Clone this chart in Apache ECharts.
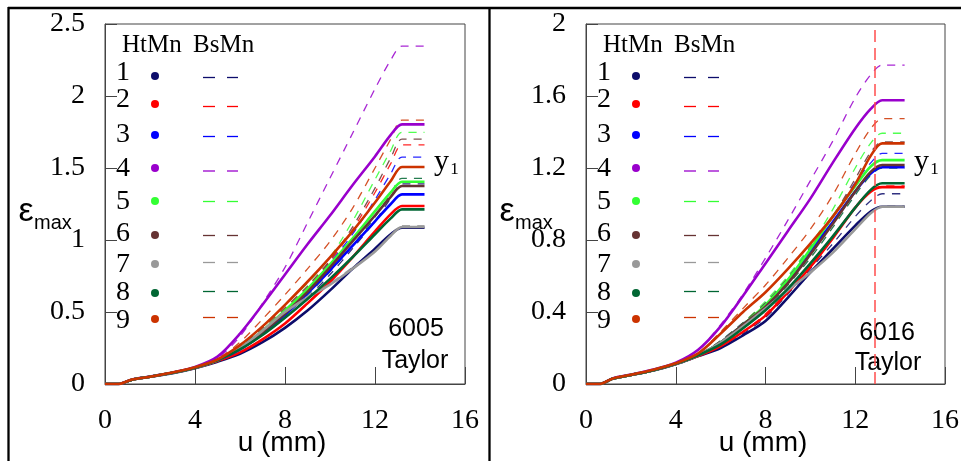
<!DOCTYPE html>
<html>
<head>
<meta charset="utf-8">
<script src="https://cdn.jsdelivr.net/npm/echarts/dist/echarts.min.js"></script>
<style>
html,body{margin:0;padding:0;background:#fff;}
#c{width:961px;height:461px;}
</style>
</head>
<body>
<div id="c"></div>
<script>
// ---------- DATA ----------
const U = [0, 0.6, 1.2, 2, 3, 4, 5, 6, 7, 8, 9, 10, 11, 12, 12.7, 13.2, 14.2];
const caseNames = ['1','2','3','4','5','6','7','8','9'];
const caseColors = ['#0d0d6b','#ff0000','#0000ff','#9900cc','#33ff33','#663333','#999999','#006633','#cc3300'];
const xTicks = [0, 4, 8, 12, 16];
const yTicksLeft = [0, 0.5, 1, 1.5, 2, 2.5];
const yTicksRight = [0, 0.4, 0.8, 1.2, 1.6, 2];
const panelTags = ['6005', '6016'];
const xTitle = 'u (mm)';
const taylorLineU = 12.85;

// 6005 HtMn (solid)
const L_Ht1 = [0,0,0.03,0.05,0.075,0.110,0.155,0.21,0.29,0.39,0.51,0.65,0.80,0.94,1.04,1.085,1.085];
const L_Ht2 = [0,0,0.03,0.05,0.078,0.112,0.160,0.22,0.31,0.42,0.56,0.71,0.88,1.06,1.18,1.236,1.236];
const L_Ht3 = [0,0,0.03,0.05,0.078,0.113,0.165,0.24,0.35,0.48,0.63,0.79,0.96,1.13,1.25,1.317,1.317];
const L_Ht4 = [0,0,0.032,0.052,0.08,0.118,0.190,0.35,0.55,0.76,0.97,1.17,1.38,1.58,1.73,1.803,1.803];
const L_Ht5 = [0,0,0.03,0.05,0.078,0.113,0.165,0.25,0.37,0.51,0.66,0.83,1.01,1.20,1.33,1.405,1.405];
const L_Ht6 = [0,0,0.03,0.05,0.078,0.113,0.165,0.25,0.36,0.49,0.64,0.81,0.99,1.17,1.30,1.375,1.375];
const L_Ht7 = [0,0,0.03,0.05,0.078,0.113,0.165,0.25,0.37,0.50,0.60,0.69,0.80,0.92,1.03,1.09,1.09];
const L_Ht8 = [0,0,0.03,0.05,0.078,0.113,0.165,0.24,0.34,0.46,0.59,0.73,0.88,1.04,1.15,1.213,1.213];
const L_Ht9 = [0,0,0.031,0.051,0.08,0.116,0.170,0.27,0.40,0.55,0.71,0.88,1.06,1.26,1.41,1.507,1.507];
// 6005 BsMn (dashed)
const L_Bs1 = [0,0,0.03,0.05,0.078,0.113,0.165,0.24,0.34,0.46,0.60,0.76,0.94,1.13,1.29,1.39,1.39];
const L_Bs2 = [0,0,0.03,0.05,0.079,0.115,0.170,0.26,0.38,0.52,0.67,0.85,1.07,1.33,1.53,1.66,1.66];
const L_Bs3 = [0,0,0.03,0.05,0.079,0.115,0.170,0.26,0.37,0.51,0.66,0.84,1.04,1.28,1.46,1.576,1.576];
const L_Bs4 = [0,0,0.031,0.051,0.08,0.117,0.180,0.33,0.56,0.81,1.12,1.43,1.74,2.05,2.25,2.347,2.347];
const L_Bs5 = [0,0,0.03,0.05,0.079,0.115,0.170,0.27,0.40,0.55,0.70,0.88,1.13,1.42,1.62,1.748,1.748];
const L_Bs6 = [0,0,0.03,0.05,0.079,0.115,0.170,0.26,0.39,0.53,0.68,0.86,1.09,1.36,1.57,1.70,1.70];
const L_Bs7 = [0,0,0.03,0.05,0.078,0.113,0.165,0.25,0.37,0.50,0.60,0.70,0.81,0.93,1.04,1.10,1.10];
const L_Bs8 = [0,0,0.03,0.05,0.078,0.113,0.165,0.25,0.36,0.48,0.62,0.78,0.96,1.16,1.32,1.428,1.428];
const L_Bs9 = [0,0,0.031,0.051,0.08,0.117,0.175,0.29,0.45,0.62,0.80,0.99,1.22,1.50,1.70,1.833,1.833];

// 6016 HtMn (solid)
const R_Ht1 = [0,0,0.03,0.05,0.075,0.110,0.155,0.20,0.27,0.35,0.48,0.62,0.75,0.88,0.96,0.985,0.985];
const R_Ht2 = [0,0,0.03,0.05,0.076,0.111,0.155,0.21,0.29,0.38,0.51,0.65,0.81,0.98,1.07,1.094,1.094];
const R_Ht3 = [0,0,0.03,0.05,0.077,0.112,0.160,0.23,0.33,0.43,0.57,0.74,0.90,1.07,1.17,1.204,1.204];
const R_Ht4 = [0,0,0.032,0.052,0.08,0.118,0.190,0.32,0.49,0.67,0.85,1.03,1.23,1.42,1.53,1.576,1.576];
const R_Ht5 = [0,0,0.03,0.05,0.077,0.112,0.160,0.23,0.33,0.44,0.58,0.75,0.93,1.10,1.21,1.244,1.244];
const R_Ht6 = [0,0,0.03,0.05,0.077,0.112,0.160,0.23,0.33,0.43,0.56,0.72,0.89,1.07,1.18,1.217,1.217];
const R_Ht7 = [0,0,0.03,0.05,0.077,0.112,0.160,0.23,0.32,0.42,0.52,0.62,0.73,0.86,0.95,0.985,0.985];
const R_Ht8 = [0,0,0.03,0.05,0.077,0.112,0.160,0.22,0.31,0.41,0.53,0.67,0.82,0.98,1.08,1.115,1.115];
const R_Ht9 = [0,0,0.031,0.051,0.079,0.115,0.170,0.28,0.40,0.51,0.64,0.78,0.93,1.11,1.27,1.337,1.337];
// 6016 BsMn (dashed)
const R_Bs1 = [0,0,0.03,0.05,0.075,0.110,0.155,0.21,0.28,0.37,0.50,0.64,0.78,0.93,1.02,1.057,1.057];
const R_Bs2 = [0,0,0.03,0.05,0.076,0.111,0.155,0.21,0.29,0.39,0.52,0.66,0.82,0.98,1.07,1.10,1.10];
const R_Bs3 = [0,0,0.03,0.05,0.077,0.112,0.160,0.24,0.34,0.45,0.59,0.76,0.93,1.12,1.23,1.281,1.281];
const R_Bs4 = [0,0,0.032,0.052,0.08,0.118,0.190,0.33,0.50,0.70,0.91,1.13,1.35,1.59,1.72,1.772,1.772];
const R_Bs5 = [0,0,0.03,0.05,0.077,0.112,0.160,0.24,0.34,0.46,0.60,0.77,0.97,1.20,1.34,1.393,1.393];
const R_Bs6 = [0,0,0.03,0.05,0.077,0.112,0.160,0.24,0.34,0.45,0.59,0.75,0.93,1.14,1.29,1.345,1.345];
const R_Bs7 = [0,0,0.03,0.05,0.077,0.112,0.160,0.23,0.32,0.42,0.52,0.62,0.73,0.86,0.95,0.99,0.99];
const R_Bs8 = [0,0,0.03,0.05,0.077,0.112,0.160,0.22,0.31,0.42,0.55,0.70,0.87,1.05,1.16,1.20,1.20];
const R_Bs9 = [0,0,0.031,0.051,0.079,0.115,0.170,0.29,0.42,0.55,0.70,0.86,1.05,1.28,1.42,1.474,1.474];

const leftHt = [L_Ht1,L_Ht2,L_Ht3,L_Ht4,L_Ht5,L_Ht6,L_Ht7,L_Ht8,L_Ht9];
const leftBs = [L_Bs1,L_Bs2,L_Bs3,L_Bs4,L_Bs5,L_Bs6,L_Bs7,L_Bs8,L_Bs9];
const rightHt = [R_Ht1,R_Ht2,R_Ht3,R_Ht4,R_Ht5,R_Ht6,R_Ht7,R_Ht8,R_Ht9];
const rightBs = [R_Bs1,R_Bs2,R_Bs3,R_Bs4,R_Bs5,R_Bs6,R_Bs7,R_Bs8,R_Bs9];

// ---------- CHART ----------
const SERIF = '"Liberation Serif", "Times New Roman", serif';
const SANS = '"Liberation Sans", Arial, sans-serif';
const AXC = '#444';

function pairs(vals){ return U.map((u,i)=>[u, vals[i]]); }

const series = [];
[[leftBs, leftHt, 0], [rightBs, rightHt, 1]].forEach(([bs, ht, p]) => {
  bs.forEach((vals, k) => {
    series.push({
      type:'line', name:'BsMn '+caseNames[k], xAxisIndex:p, yAxisIndex:p,
      data:pairs(vals), showSymbol:false, symbol:'none', smooth:0.3, z:2, silent:true,
      lineStyle:{color:caseColors[k], width:1.3, type:[8,7], opacity:0.85}
    });
  });
  ht.forEach((vals, k) => {
    series.push({
      type:'line', name:'HtMn '+caseNames[k], xAxisIndex:p, yAxisIndex:p,
      data:pairs(vals), showSymbol:false, symbol:'none', smooth:0.3, z:3, silent:true,
      lineStyle:{color:caseColors[k], width:2.6}
    });
  });
});
// Taylor marker line (right panel)
series.push({
  type:'line', xAxisIndex:1, yAxisIndex:1, data:[], silent:true,
  markLine:{symbol:['none','none'], silent:true, label:{show:false},
    lineStyle:{color:'#ff4d4d', width:1.5, type:[12,6]},
    data:[{xAxis:taylorLineU}]}
});

function xAxisCfg(idx){
  return {
    type:'value', gridIndex:idx, min:xTicks[0], max:xTicks[xTicks.length-1], interval:xTicks[1]-xTicks[0],
    axisLine:{show:true, lineStyle:{color:AXC, width:1}},
    axisTick:{show:true, inside:true, length:17, lineStyle:{color:AXC}},
    axisLabel:{show:true, margin:23, color:'#000', fontFamily:SERIF, fontSize:28, showMinLabel:true, showMaxLabel:true},
    splitLine:{show:false}
  };
}
function yAxisCfg(idx, ticks){
  return {
    type:'value', gridIndex:idx, min:ticks[0], max:ticks[ticks.length-1], interval:ticks[1]-ticks[0],
    axisLine:{show:true, lineStyle:{color:AXC, width:1}},
    axisTick:{show:true, inside:true, length:12, lineStyle:{color:AXC}},
    axisLabel:{show:true, margin:20, color:'#000', fontFamily:SERIF, fontSize:28, showMinLabel:true, showMaxLabel:true},
    splitLine:{show:false}
  };
}

// ---------- GRAPHIC (frame, legends, annotations) ----------
const graphic = [];
function gl(x1,y1,x2,y2,stroke,w){ graphic.push({type:'line', silent:true, shape:{x1,y1,x2,y2}, style:{stroke, lineWidth:w}}); }
function gt(text,x,y,font,size,align,va){ graphic.push({type:'text', silent:true, x, y, style:{text, fill:'#000', fontFamily:font, fontSize:size, align, verticalAlign:va||'middle'}}); }
gl(8,8,961,8,'#000',2.3);
gl(8.5,7,8.5,461,'#000',2.3);
gl(489.5,7,489.5,461,'#000',2.3);

const numY = [72.5, 100, 135, 169, 202, 234, 265, 293, 321];
const dotY = [76, 104, 135, 168, 201, 235, 264, 293, 319];
const dashY = [77.5, 106.5, 136.5, 171, 201.5, 235.5, 262.5, 291.5, 317.5];
[0, 481].forEach((dx, p) => {
  gt('HtMn', 122+dx, 45, SERIF, 25, 'left');
  gt('BsMn', 193+dx, 45, SERIF, 25, 'left');
  caseNames.forEach((nm, k) => {
    gt(nm, 123+dx, numY[k], SERIF, 28, 'center');
    graphic.push({type:'circle', silent:true, shape:{cx:155+dx, cy:dotY[k], r:4}, style:{fill:caseColors[k]}});
    gl(203+dx, dashY[k], 215+dx, dashY[k], caseColors[k], 1.3);
    gl(227+dx, dashY[k], 238+dx, dashY[k], caseColors[k], 1.3);
  });
  // epsilon_max
  gt('ε', 26+dx, 212, SANS, 34, 'center');
  gt('max', 34+dx, 223, SANS, 20, 'left');
  // y1
  gt('y', 441.5+(p?480:0), 162, SERIF, 30, 'center');
  gt('1', 454.5+(p?480:0), 170, SERIF, 17, 'center');
  // x-axis title
  gt(xTitle, 282+dx, 443, SANS, 28, 'center');
});
gt(panelTags[0], 416, 329, SANS, 25, 'center');
gt('Taylor', 415, 361, SANS, 25, 'center');
gt(panelTags[1], 887, 333, SANS, 25, 'center');
gt('Taylor', 888, 363, SANS, 25, 'center');

const chart = echarts.init(document.getElementById('c'), null, {renderer:'canvas'});
chart.setOption({
  animation:false,
  backgroundColor:'#fff',
  grid:[
    {left:105, top:24, width:360, height:360, show:true, borderColor:AXC, borderWidth:1, backgroundColor:'transparent', containLabel:false, outerBoundsMode:'none'},
    {left:586, top:24, width:359, height:360, show:true, borderColor:AXC, borderWidth:1, backgroundColor:'transparent', containLabel:false, outerBoundsMode:'none'}
  ],
  xAxis:[xAxisCfg(0), xAxisCfg(1)],
  yAxis:[yAxisCfg(0, yTicksLeft), yAxisCfg(1, yTicksRight)],
  series,
  graphic
});
</script>
</body>
</html>
